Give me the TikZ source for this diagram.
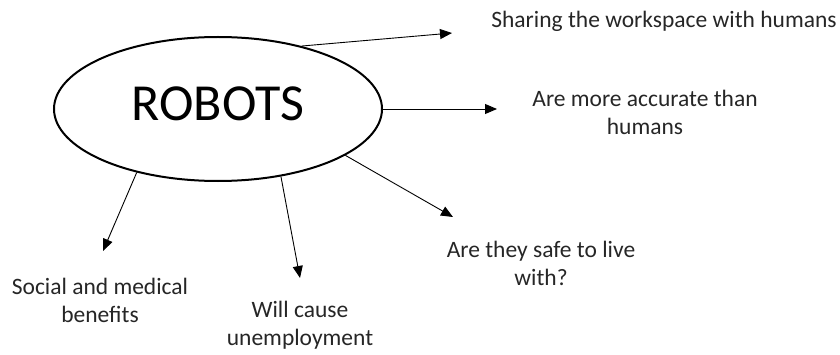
\documentclass[tikz,border=0pt]{standalone}
\usepackage{fontspec}
\setmainfont{Carlito}
\usetikzlibrary{shapes.geometric,arrows.meta}
\tikzset{
  idea/.style={align=center,font=\fontsize{23.5}{28}\selectfont,text=black!85,inner sep=0pt,anchor=base},
  link/.style={-{Triangle[length=12pt,width=10pt]},line width=0.9pt}
}

\begin{document}
\begin{tikzpicture}[x=1pt,y=1pt]
        \useasboundingbox (0,0) rectangle (840,354);
        % main topic
        \node[draw,ellipse,line width=2pt,minimum width=328pt,minimum height=144pt,inner sep=0pt,
              text depth=10pt,font=\fontsize{52}{60}\selectfont] (robots) at (218,245) {ROBOTS};
        % branch texts (base = last line)
        \node[idea] (share) at (664,326) {Sharing the workspace with humans};
        \node[idea] (accurate) at (645,219) {Are more accurate than\\humans};
        \node[idea] (safe) at (541,69) {Are they safe to live\\with?};
        \node[idea] (jobs) at (300,9) {Will cause\\unemployment};
        \node[idea] (benefits) at (100,32) {Social and medical\\benefits};
        % arrow tips
        \coordinate (shareTip) at (452,321);
        \coordinate (accurateTip) at (497,245);
        \coordinate (safeTip) at (453,137);
        \coordinate (jobsTip) at (300,76);
        \coordinate (benefitsTip) at (103,103);
        % arrows
        \draw[link] (robots.37.7) -- (shareTip);
        \draw[link] (robots.0) -- (accurateTip);
        \draw[link] (robots.-20.7) -- (safeTip);
        \draw[link] (robots.-47.2) -- (jobsTip);
        \draw[link] (robots.-142.4) -- (benefitsTip);
\end{tikzpicture}
\end{document}
